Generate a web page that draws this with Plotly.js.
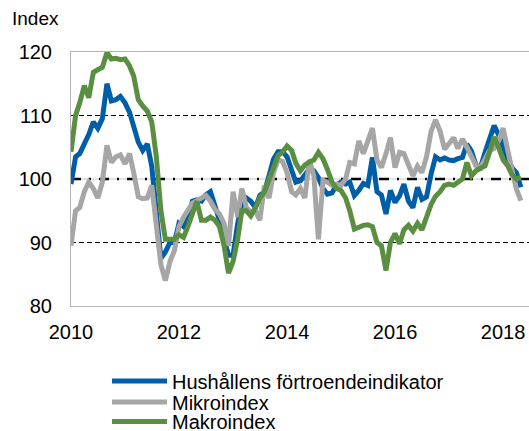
<!DOCTYPE html>
<html>
<head>
<meta charset="utf-8">
<script src="https://cdn.plot.ly/plotly-3.0.1.min.js"></script>
<style>html,body{margin:0;padding:0;background:#fff;}#chart{width:529px;height:431px;}</style>
</head>
<body>
<div id="chart"></div>
<script>
// Monthly data, Jan 2010 - May 2018
const startYear = 2010;
const seriesNames = ["Hushållens förtroendeindikator", "Mikroindex", "Makroindex"];
const hushallens = [
  99.2,103.5,104,105.5,107,109,108,109.5,115,112.3,112.5,113,
  112,110.5,108,105.8,104.5,105.5,102,94,87.5,88.5,90,90,
  93,92.5,93.7,96.5,96.7,96.5,97.5,98,96,93.5,90.5,88,
  88,93,96,97,96.5,95.5,97.4,98,100.5,103.1,104.3,104.3,
  103.5,101.5,99.5,99.7,100.8,101.6,101.3,100.2,98.5,97.6,97.8,99,
  99.5,99.2,99.5,97.4,98.2,99.3,99,103.4,98,97.5,94.5,98.2,
  96.3,97.4,99.2,96.5,95.5,98.7,96.8,97.2,100.8,103.5,103,103.3,
  103,102.9,103.2,103.4,105.5,104.4,102.2,101.8,104.2,106.5,108.4,107,
  105,103.2,101.8,101,98.7
];
const mikroindex = [
  89.5,95,95.5,98,99.5,98.5,97,99.5,105.3,102.6,103.5,103.8,
  102.4,104,101,97.2,96.9,97,99,93,86.5,84,87,88.7,
  92.5,94,95,96.2,96.6,97,97.4,96.5,95.2,94.5,93,89.5,
  98,94,98.5,95.5,94.8,95,93.5,99,97,101,103,102.8,
  101,98,97.5,98.5,97,103,100.5,90.5,99.8,99.5,99,99.2,
  99,100,102.6,102.4,106,104,105.8,108,103,101.8,104,106.5,
  101.8,104.2,104,102,100.5,102,101,103.5,107.5,109.3,107.5,104.7,
  105.6,106.5,104.8,106.3,105,103.5,102.1,101.8,103,104.5,104.8,106,
  108,104.2,101.5,98.4,96.6
];
const makroindex = [
  104.3,110,112,114.7,112.8,116.8,117.2,117.6,119.9,118.9,119,118.8,
  118.9,117.8,116.2,112.5,111.5,110.7,109,103.5,95,90.5,90.5,90.5,
  91.2,90.8,92.5,94.5,96.5,93.5,93.5,94,93.5,92.5,89.5,85.2,
  87,90.5,95,95,94.2,95.5,97,98,100,101.8,103.7,104.2,
  105.2,104.5,102.5,101.3,102.2,102.7,103,104.2,103.2,101.5,99.5,98.5,
  98.2,97,95,92.1,92.5,92.7,92.8,92.5,90,89.5,85.6,90,
  91.4,89.8,92,92.7,91.8,93,92,94,96,97.3,98,99,
  99.2,99,99.5,100,102.6,100.5,101.3,101.6,102.1,104.2,106.6,105,
  103,102.1,100.7,100,100.3
];
const yTickVals = [80, 90, 100, 110, 120];
const xTickYears = [2010, 2012, 2014, 2016, 2018];

function monthDates(n) {
  const out = [];
  for (let i = 0; i < n; i++) {
    const y = startYear + Math.floor(i / 12);
    const m = (i % 12) + 1;
    out.push(y + "-" + (m < 10 ? "0" + m : m) + "-01");
  }
  return out;
}
const dates = monthDates(hushallens.length);

const colors = ["#005ea8", "#a6a6a6", "#5a8e40"];
const values = [hushallens, mikroindex, makroindex];
const legends = ["legend", "legend2", "legend3"];

const traces = values.map((v, k) => ({
  x: dates, y: v, name: seriesNames[k], type: "scatter", mode: "lines",
  line: {color: colors[k], width: 5},
  legend: legends[k], showlegend: true, hoverinfo: "skip"
}));

const font = {family: "Liberation Sans, Arial, sans-serif", color: "#000"};
const legendBase = (yc) => ({
  xref: "container", yref: "container", x: 107/529, y: 1 - yc/431,
  xanchor: "left", yanchor: "middle", bgcolor: "rgba(0,0,0,0)",
  font: Object.assign({size: 20}, font), itemwidth: 55, borderwidth: 0
});

const layout = {
  width: 529, height: 431,
  margin: {l: 71, r: 0, t: 52, b: 125, autoexpand: false},
  paper_bgcolor: "#fff", plot_bgcolor: "#fff",
  font: font,
  title: {text: "Index", x: 12/529, xref: "container", xanchor: "left",
          y: 1 - 18/431, yref: "container", yanchor: "middle",
          font: Object.assign({size: 19}, font)},
  xaxis: {
    type: "date", range: ["2010-01-01", "2018-06-25"],
    tickvals: xTickYears.map(y => y + "-01-01"), ticktext: xTickYears.map(String),
    tickangle: 0, automargin: false,
    showgrid: false, zeroline: false,
    showline: true, linecolor: "#b4b4b4", linewidth: 1, mirror: true,
    ticks: "outside", ticklen: 8, tickcolor: "rgba(0,0,0,0)",
    tickfont: Object.assign({size: 20}, font)
  },
  yaxis: {
    range: [80, 120], tickvals: yTickVals, automargin: false,
    showgrid: false, zeroline: false,
    showline: true, linecolor: "#b4b4b4", linewidth: 1,
    ticks: "outside", ticklen: 14, tickcolor: "rgba(0,0,0,0)",
    tickfont: Object.assign({size: 20}, font)
  },
  shapes: [
    {type: "line", xref: "paper", x0: 0, x1: 1, yref: "y", y0: 110, y1: 110, layer: "below",
     line: {color: "#000", width: 1, dash: "5px,3px"}},
    {type: "line", xref: "paper", x0: 0, x1: 1, yref: "y", y0: 90, y1: 90, layer: "below",
     line: {color: "#000", width: 1, dash: "5px,3px"}},
    {type: "line", xref: "paper", x0: 0, x1: 1, yref: "y", y0: 100, y1: 100, layer: "below",
     line: {color: "#c8c8c8", width: 1}},
    {type: "line", xref: "paper", x0: 0, x1: 1, yref: "y", y0: 100, y1: 100, layer: "below",
     line: {color: "#000", width: 2.5, dash: "10px,8px,2px,8px"}}
  ],
  legend: legendBase(381),
  legend2: legendBase(402),
  legend3: legendBase(421.5),
  showlegend: true
};

Plotly.newPlot("chart", traces, layout, {displayModeBar: false, staticPlot: true});
</script>
</body>
</html>
